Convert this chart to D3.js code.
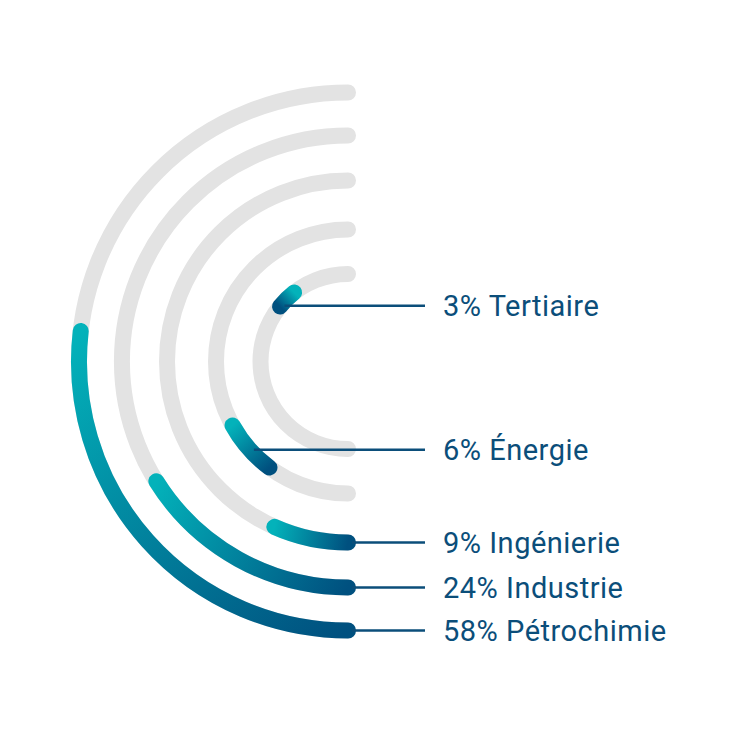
<!DOCTYPE html>
<html>
<head>
<meta charset="utf-8">
<script src="https://cdn.jsdelivr.net/npm/d3@7"></script>
<style>
  html, body { margin: 0; padding: 0; background: #ffffff; }
  svg { display: block; }
</style>
</head>
<body>
<svg id="chart" width="730" height="730"></svg>
<script>
// ---- data (outermost ring first) ----
const categories = ["Pétrochimie", "Industrie", "Ingénierie", "Énergie", "Tertiaire"];
const percents   = [58, 24, 9, 6, 3];
// arc extent on each ring, degrees measured from the bottom of the half circle
const arcStartDeg  = [0, 0, 0, 36.5, 129];
const arcEndDeg    = [96.5, 58, 24, 61, 142];
const leaderDeg    = [0, 0, 0, 48, 129.5];

// ---- layout ----
const W = 730, H = 730;
const cx = 348, cy = 361.5;
const ringWidth = 16;
const lineEndX = 425, labelX = 443;
const teal = "#03b2ba", navy = "#00507f", track = "#e3e3e3", ink = "#0b4e7a";

const svg = d3.select("#chart");
const defs = svg.append("defs");

// degrees from bottom -> canvas radians (0 = 3 o'clock, clockwise)
const angle = d3.scaleLinear().domain([0, 180]).range([Math.PI / 2, 3 * Math.PI / 2]);
const radius = d3.scaleOrdinal().domain(categories).range([269, 226, 181, 132, 87.5]);

function arcPath(r, d0, d1) {
  const p = d3.path();
  const a0 = angle(d0), a1 = angle(d1);
  p.moveTo(cx + r * Math.cos(a0), cy + r * Math.sin(a0));
  p.arc(cx, cy, r, a0, a1, false);
  return p.toString();
}
function pt(r, d) {
  const a = angle(d);
  return [cx + r * Math.cos(a), cy + r * Math.sin(a)];
}

const g = svg.append("g");

// background tracks (half circles)
g.selectAll("path.track")
  .data(categories)
  .join("path")
  .attr("class", "track")
  .attr("d", c => arcPath(radius(c), 0, 180))
  .attr("fill", "none")
  .attr("stroke", track)
  .attr("stroke-width", ringWidth)
  .attr("stroke-linecap", "round");

// gradients along each value arc
categories.forEach((c, i) => {
  const r = radius(c);
  const [x1, y1] = pt(r, arcEndDeg[i]);
  const [x2, y2] = pt(r, arcStartDeg[i]);
  const gr = defs.append("linearGradient")
    .attr("id", "grad" + i)
    .attr("gradientUnits", "userSpaceOnUse")
    .attr("x1", x1).attr("y1", y1)
    .attr("x2", x2).attr("y2", y2);
  gr.append("stop").attr("offset", "0%").attr("stop-color", teal);
  gr.append("stop").attr("offset", "100%").attr("stop-color", navy);
});

// value arcs
g.selectAll("path.value")
  .data(categories)
  .join("path")
  .attr("class", "value")
  .attr("d", (c, i) => arcPath(radius(c), arcStartDeg[i], arcEndDeg[i]))
  .attr("fill", "none")
  .attr("stroke", (c, i) => `url(#grad${i})`)
  .attr("stroke-width", ringWidth)
  .attr("stroke-linecap", "round");

// leader lines
g.selectAll("line.leader")
  .data(categories)
  .join("line")
  .attr("class", "leader")
  .attr("x1", (c, i) => pt(radius(c), leaderDeg[i])[0] + 4)
  .attr("y1", (c, i) => pt(radius(c), leaderDeg[i])[1])
  .attr("x2", lineEndX)
  .attr("y2", (c, i) => pt(radius(c), leaderDeg[i])[1])
  .attr("stroke", ink)
  .attr("stroke-width", 2.5);

// labels
g.selectAll("text.label")
  .data(categories)
  .join("text")
  .attr("class", "label")
  .attr("x", labelX)
  .attr("y", (c, i) => pt(radius(c), leaderDeg[i])[1])
  .attr("dy", "0.36em")
  .attr("font-family", "Roboto, 'Open Sans', sans-serif")
  .attr("font-size", 29)
  .attr("letter-spacing", "0.5px")
  .attr("fill", ink)
  .text((c, i) => `${percents[i]}% ${c}`);
</script>
</body>
</html>
